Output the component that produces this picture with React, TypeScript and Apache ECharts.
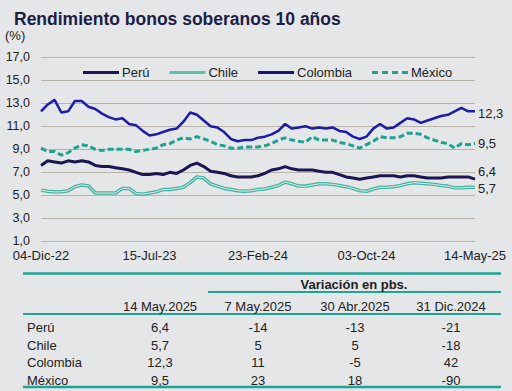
import React, { useEffect, useRef } from 'react';
import * as echarts from 'echarts';

const tickLabels = ['04-Dic-22', '15-Jul-23', '23-Feb-24', '03-Oct-24', '14-May-25'];

const peru = [7.6, 8.0, 7.9, 7.8, 8.0, 7.9, 8.0, 7.9, 7.6, 7.5, 7.5, 7.4, 7.3, 7.2, 7.0, 6.8, 6.8, 6.9, 6.8, 7.0, 6.9, 7.2, 7.6, 7.8, 7.5, 7.1, 7.0, 6.9, 6.7, 6.6, 6.6, 6.6, 6.7,
  6.9, 7.2, 7.3, 7.5, 7.3, 7.2, 7.2, 7.2, 7.1, 7.0, 7.0, 6.8, 6.6, 6.5, 6.4, 6.5, 6.6, 6.7, 6.7, 6.7, 6.6, 6.7, 6.7, 6.6, 6.5, 6.5, 6.5, 6.6, 6.6, 6.6, 6.6, 6.4];
const chile = [5.45, 5.35, 5.3, 5.3, 5.4, 5.75, 5.9, 5.8, 5.2, 5.2, 5.2, 5.2, 5.6, 5.6, 5.15, 5.1, 5.2, 5.3, 5.5, 5.5, 5.6, 5.7, 6.1, 6.6, 6.5, 6.0, 5.8, 5.6, 5.5, 5.4, 5.35, 5.4, 5.5,
  5.55, 5.7, 5.85, 6.15, 6.0, 5.8, 5.8, 5.9, 6.0, 6.0, 5.95, 5.85, 5.75, 5.6, 5.4, 5.35, 5.55, 5.7, 5.7, 5.75, 5.85, 6.0, 6.1, 6.05, 6.0, 5.95, 5.85, 5.8, 5.65, 5.65, 5.7, 5.7];
const colombia = [12.3, 12.9, 13.3, 12.2, 12.3, 13.2, 13.2, 12.7, 12.5, 12.1, 11.8, 11.6, 11.7, 11.2, 11.1, 10.6, 10.2, 10.3, 10.5, 10.7, 10.8, 11.4, 12.2, 12.0, 11.5, 11.0, 10.9, 10.5, 9.9, 9.7, 9.8, 9.8, 10.0,
  10.1, 10.3, 10.6, 11.2, 10.8, 10.9, 11.0, 10.8, 10.9, 10.8, 10.9, 10.6, 10.5, 10.1, 9.9, 10.1, 10.8, 11.2, 10.8, 10.9, 11.3, 11.7, 11.6, 11.3, 11.5, 11.7, 11.9, 12.0, 12.3, 12.6, 12.3, 12.3];
const mexico = [9.1, 8.8, 8.8, 8.5, 8.7, 9.1, 9.4, 9.3, 9.0, 8.9, 9.0, 9.0, 9.0, 9.0, 8.8, 8.9, 9.0, 9.1, 9.4, 9.5, 9.8, 10.0, 9.9, 10.1, 9.9, 9.7, 9.4, 9.3, 9.1, 9.1, 9.2, 9.2, 9.2,
  9.3, 9.5, 9.8, 10.0, 9.8, 9.7, 9.6, 10.1, 9.8, 9.8, 9.8, 9.6, 9.5, 9.3, 9.1, 9.4, 9.7, 10.1, 10.0, 10.0, 10.1, 10.4, 10.4, 10.3, 10.0, 9.8, 9.6, 9.5, 9.1, 9.5, 9.4, 9.5];

const tableCountries = ['Perú', 'Chile', 'Colombia', 'México'];
const tableHeaders = ['14 May.2025', '7 May.2025', '30 Abr.2025', '31 Dic.2024'];
const latest = [6.4, 5.7, 12.3, 9.5];
const var7May = [-14, 5, 11, 23];
const var30Abr = [-13, 5, -5, 18];
const var31Dic = [-21, -18, 42, -90];

export default function App() {
  const ref = useRef<HTMLDivElement>(null);
  useEffect(() => {
    if (!ref.current) return;
    const chart = echarts.init(ref.current, null, { renderer: 'svg' });
    const font = 'Liberation Sans, Arial, Helvetica, sans-serif';
    const categories = peru.map((_, i) => String(i));
    const fmt = (v: number) => v.toFixed(1).replace('.', ',');
    const endLabel = (dy: number) => ({
      show: true,
      formatter: (p: any) => fmt(Array.isArray(p.value) ? p.value[1] : p.value),
      color: '#222',
      fontSize: 13,
      fontFamily: font,
      distance: 3,
      offset: [0, dy],
    });
    const colX = [160, 258, 355, 451];
    const rowY = [327.5, 345, 362.5, 380];
    const teal = '#1ea597';
    const lineEl = (x1: number, x2: number, y: number, w: number) => ({
      type: 'line',
      shape: { x1, y1: y, x2, y2: y },
      style: { stroke: teal, lineWidth: w },
    });
    const textEl = (text: string, x: number, y: number, align: string, bold = false) => ({
      type: 'text',
      x,
      y,
      style: {
        text,
        fill: '#222',
        font: `${bold ? 'bold ' : ''}13px ${font}`,
        textAlign: align,
        textVerticalAlign: 'middle',
        align,
        verticalAlign: 'middle',
      },
    });
    const tableEls: any[] = [
      lineEl(23, 501, 273.5, 2.5),
      lineEl(208, 501, 292, 2),
      lineEl(23, 501, 314, 2),
      lineEl(23, 501, 387, 2.5),
      textEl('Variación en pbs.', 354, 284, 'center', true),
      textEl('(%)', 5, 35, 'left'),
    ];
    tableHeaders.forEach((h, i) => tableEls.push(textEl(h, colX[i], 306, 'center')));
    tableCountries.forEach((c, r) => {
      tableEls.push(textEl(c, 27, rowY[r], 'left'));
      tableEls.push(textEl(fmt(latest[r]), colX[0], rowY[r], 'center'));
      tableEls.push(textEl(String(var7May[r]), colX[1], rowY[r], 'center'));
      tableEls.push(textEl(String(var30Abr[r]), colX[2], rowY[r], 'center'));
      tableEls.push(textEl(String(var31Dic[r]), colX[3], rowY[r], 'center'));
    });

    const solidIcon = 'path://M0,0H36V3H0Z';
    const dashIcon = 'path://M0,0H6V3H0ZM10,0H16V3H10ZM20,0H26V3H20ZM30,0H36V3H30Z';

    chart.setOption({
      animation: false,
      backgroundColor: '#e4e6e8',
      textStyle: { fontFamily: font },
      title: {
        text: 'Rendimiento bonos soberanos 10 años',
        left: 9,
        top: 5,
        textStyle: { fontSize: 17.5, fontWeight: 'bold', color: '#1d1d45', fontFamily: font },
      },
      legend: {
        data: [
          { name: 'Perú', icon: solidIcon, itemStyle: { color: '#1b1553' } },
          { name: 'Chile', icon: solidIcon, itemStyle: { color: '#5cbfb0' } },
          { name: 'Colombia', icon: solidIcon, itemStyle: { color: '#14147a' } },
          { name: 'México', icon: dashIcon, itemStyle: { color: '#1ea391' } },
        ],
        left: 78,
        top: 61,
        itemWidth: 36,
        itemHeight: 3,
        itemGap: 20,
        textStyle: { fontSize: 13, color: '#222', fontFamily: font, padding: [0, 0, 0, -2] },
      },
      grid: { left: 41, right: 37, top: 57.3, bottom: 149.7 },
      xAxis: {
        type: 'category',
        data: categories,
        boundaryGap: false,
        axisLine: { show: false },
        axisTick: { show: false },
        axisLabel: {
          interval: (idx: number) => idx % 16 === 0,
          formatter: (_v: string, idx: number) => tickLabels[idx / 16] ?? '',
          color: '#222',
          fontSize: 13,
          margin: 8,
          showMaxLabel: true,
          showMinLabel: true,
        },
      },
      yAxis: {
        type: 'value',
        min: 1,
        max: 17,
        interval: 2,
        axisLine: { show: false },
        axisTick: { show: false },
        axisLabel: { formatter: (v: number) => fmt(v), color: '#222', fontSize: 12.5, margin: 11 },
        splitLine: { lineStyle: { color: '#bab3aa', width: 1 } },
      },
      series: [
        {
          name: 'Perú', type: 'line', data: peru, symbol: 'none',
          lineStyle: { color: '#1b1553', width: 3 }, itemStyle: { color: '#1b1553' },
          endLabel: endLabel(-8), z: 4,
        },
        {
          name: 'Chile', type: 'line', data: chile, symbol: 'none',
          lineStyle: { color: '#45b3a2', width: 3.5 }, itemStyle: { color: '#45b3a2' },
          endLabel: endLabel(1), z: 2,
        },
        {
          name: 'Chile-inner', type: 'line', data: chile, symbol: 'none',
          lineStyle: { color: '#dcefeb', width: 1 }, itemStyle: { color: '#dcefeb' }, z: 3,
        },
        {
          name: 'Colombia', type: 'line', data: colombia, symbol: 'none',
          lineStyle: { color: '#1c1ca8', width: 2.5 }, itemStyle: { color: '#1c1ca8' },
          endLabel: endLabel(2), z: 4,
        },
        {
          name: 'México', type: 'line', data: mexico, symbol: 'none',
          lineStyle: { color: '#1ea391', width: 3, type: [6, 3] }, itemStyle: { color: '#1ea391' },
          endLabel: endLabel(0), z: 4,
        },
      ],
      graphic: tableEls,
    });
    return () => chart.dispose();
  }, []);
  return (
    <div
      ref={ref}
      style={{ position: 'fixed', left: 0, top: 0, width: 512, height: 391, background: '#e4e6e8' }}
    />
  );
}
